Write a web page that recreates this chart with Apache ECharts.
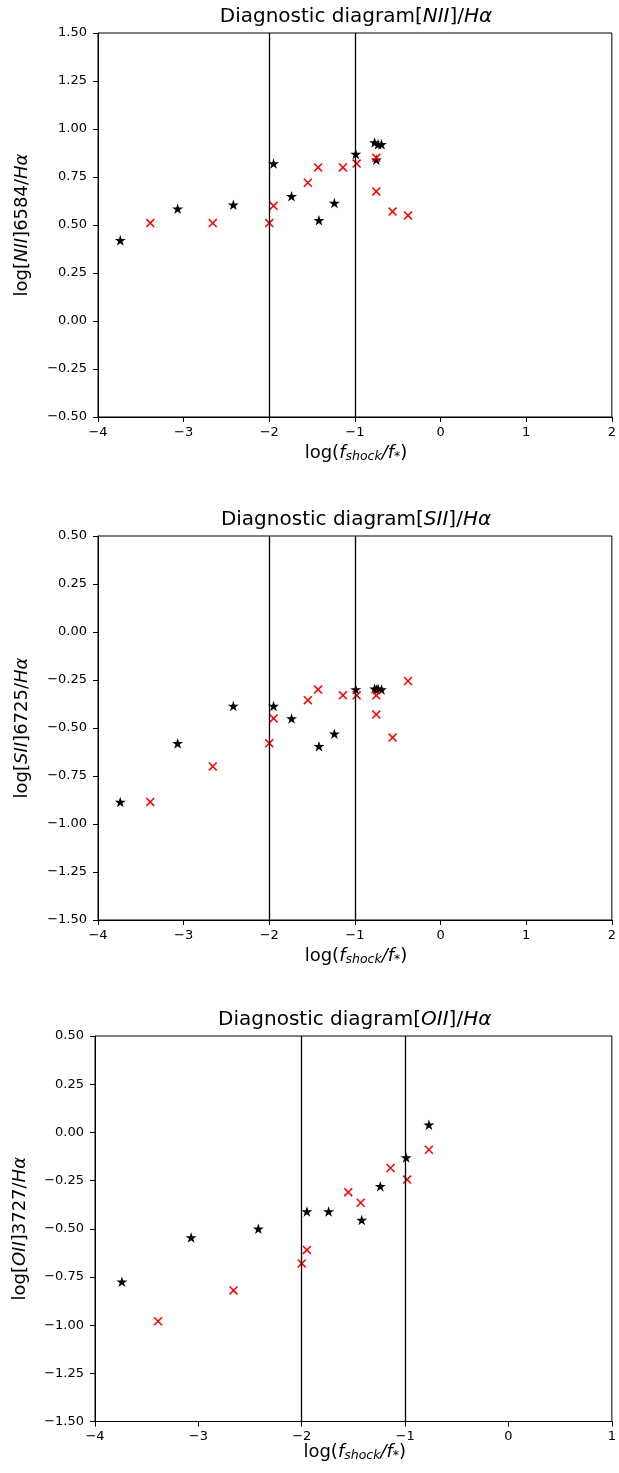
<!DOCTYPE html>
<html>
<head>
<meta charset="utf-8">
<script src="https://cdn.jsdelivr.net/npm/echarts@6/dist/echarts.min.js"></script>
<style>
html,body{margin:0;padding:0;background:#fff;overflow:hidden;}
#chart{width:619px;height:1473px;}
</style>
</head>
<body>
<div id="chart"></div>
<script>
// ---- data ----
const xTicks1 = [-4, 2];           // panel 1 & 2 x range
const xTicks3 = [-4, 1];           // panel 3 x range
const vLines = [-2, -1];

const n2StarX  = [-3.74, -3.07, -2.42, -1.95, -1.74, -1.42, -1.24, -0.99, -0.77, -0.73, -0.69, -0.75];
const n2StarY  = [0.42, 0.585, 0.605, 0.82, 0.65, 0.525, 0.615, 0.87, 0.93, 0.92, 0.92, 0.84];
const n2CrossX = [-3.39, -2.66, -2.00, -1.95, -1.55, -1.43, -1.14, -0.98, -0.75, -0.75, -0.56, -0.38];
const n2CrossY = [0.51, 0.51, 0.51, 0.60, 0.72, 0.80, 0.80, 0.82, 0.85, 0.675, 0.57, 0.55];

const s2StarX  = [-3.74, -3.07, -2.42, -1.95, -1.74, -1.42, -1.24, -0.99, -0.77, -0.73, -0.69, -0.75];
const s2StarY  = [-0.885, -0.58, -0.385, -0.385, -0.45, -0.595, -0.53, -0.30, -0.295, -0.295, -0.30, -0.30];
const s2CrossX = [-3.39, -2.66, -2.00, -1.95, -1.55, -1.43, -1.14, -0.98, -0.75, -0.75, -0.56, -0.38];
const s2CrossY = [-0.885, -0.70, -0.58, -0.45, -0.355, -0.30, -0.33, -0.33, -0.33, -0.43, -0.55, -0.255];

const o2StarX  = [-3.74, -3.07, -2.42, -1.95, -1.74, -1.42, -1.24, -0.99, -0.77];
const o2StarY  = [-0.775, -0.545, -0.50, -0.41, -0.41, -0.455, -0.28, -0.13, 0.04];
const o2CrossX = [-3.39, -2.66, -2.00, -1.95, -1.55, -1.43, -1.14, -0.98, -0.77];
const o2CrossY = [-0.98, -0.82, -0.68, -0.61, -0.31, -0.365, -0.185, -0.245, -0.09];

const titles = [['NII'], ['SII'], ['OII']];
const yLabelLines = ['6584', '6725', '3727'];

// ---- helpers ----
const zip = (xs, ys) => xs.map((x, i) => [x, ys[i]]);
const STAR = 'path://M50 0 L61.23 34.55 L97.55 34.55 L68.17 55.9 L79.39 90.45 L50 69.1 L20.61 90.45 L31.83 55.9 L2.45 34.55 L38.77 34.55 Z';
const CROSS = 'path://M0 1.2 L1.2 0 L10 8.8 L8.8 10 Z M8.8 0 L10 1.2 L1.2 10 L0 8.8 Z';
const FONT = 'DejaVu Sans';
const fmtY = v => (v < 0 ? '\u2212' : '') + Math.abs(v).toFixed(2);
const fmtX = v => (v < 0 ? '\u2212' : '') + Math.abs(Math.round(v));

const grids = [
  {left: 98, top: 33, width: 516, height: 384},
  {left: 98, top: 536, width: 516, height: 384},
  {left: 95, top: 1036, width: 519.5, height: 385.5}
];
const xLabelGap = [36, 36, 31];
const xRanges = [xTicks1, xTicks1, xTicks3];
const yRanges = [[-0.5, 1.5], [-1.5, 0.5], [-1.5, 0.5]];
const starSets = [zip(n2StarX, n2StarY), zip(s2StarX, s2StarY), zip(o2StarX, o2StarY)];
const crossSets = [zip(n2CrossX, n2CrossY), zip(s2CrossX, s2CrossY), zip(o2CrossX, o2CrossY)];

const option = {
  animation: false,
  backgroundColor: '#fff',
  grid: grids.map(g => Object.assign({show: true, borderColor: '#000', borderWidth: 1, backgroundColor: 'transparent'}, g)),
  xAxis: grids.map((g, i) => ({
    gridIndex: i, type: 'value', min: xRanges[i][0], max: xRanges[i][1], interval: 1,
    axisLine: {show: true, onZero: false, lineStyle: {color: '#000', width: 1}},
    axisTick: {show: true, length: 5, lineStyle: {color: '#000', width: 1}},
    axisLabel: {color: '#000', fontFamily: FONT, fontSize: 13, margin: 9, formatter: fmtX},
    splitLine: {show: false}
  })),
  yAxis: grids.map((g, i) => ({
    gridIndex: i, type: 'value', min: yRanges[i][0], max: yRanges[i][1], interval: 0.25,
    axisLine: {show: true, onZero: false, lineStyle: {color: '#000', width: 1}},
    axisTick: {show: true, length: 5, lineStyle: {color: '#000', width: 1}},
    axisLabel: {color: '#000', fontFamily: FONT, fontSize: 13, margin: 11, formatter: fmtY},
    splitLine: {show: false}
  })),
  series: [],
  graphic: []
};

grids.forEach((g, i) => {
  option.series.push({
    type: 'scatter', xAxisIndex: i, yAxisIndex: i, data: [], z: 1, silent: true,
    markLine: {
      silent: true, symbol: 'none', label: {show: false}, animation: false,
      lineStyle: {color: '#000', width: 1.3, type: 'solid'},
      data: vLines.map(v => ({xAxis: v}))
    }
  });
  option.series.push({
    type: 'scatter', xAxisIndex: i, yAxisIndex: i, data: starSets[i], z: 3,
    symbol: STAR, symbolSize: [11, 10.5], itemStyle: {color: '#000', opacity: 1}
  });
  option.series.push({
    type: 'scatter', xAxisIndex: i, yAxisIndex: i, data: crossSets[i], z: 4,
    symbol: CROSS, symbolSize: 9, itemStyle: {color: '#ff0000', opacity: 1}
  });

  const cx = g.left + g.width / 2;
  const cy = g.top + g.height / 2;
  const rich = {
    n: {fontFamily: FONT, fontSize: 20, fill: '#000'},
    i: {fontFamily: FONT, fontSize: 20, fontStyle: 'italic', fill: '#000'}
  };
  // title
  option.graphic.push({
    type: 'text', x: cx, y: g.top - 16,
    style: {
      text: '{n|Diagnostic diagram[}{i|' + titles[i][0] + '}{n|]/}{i|H\u03b1}',
      rich: rich, align: 'center', verticalAlign: 'middle'
    }
  });
  // x label
  option.graphic.push({
    type: 'text', x: cx, y: g.top + g.height + xLabelGap[i],
    style: {
      text: '{n|log(}{i|f}{s|shock}{i|/f}{s|*}{n|)}',
      rich: {
        n: {fontFamily: FONT, fontSize: 18, fill: '#000'},
        i: {fontFamily: FONT, fontSize: 18, fontStyle: 'italic', fill: '#000'},
        s: {fontFamily: FONT, fontSize: 12.5, fontStyle: 'italic', fill: '#000', padding: [7, 0, 0, 0]}
      },
      align: 'center', verticalAlign: 'middle'
    }
  });
  // y label
  option.graphic.push({
    type: 'text', x: i === 2 ? 20 : 22, y: cy, rotation: Math.PI / 2,
    style: {
      text: '{n|log[}{i|' + titles[i][0] + '}{n|]' + yLabelLines[i] + '/}{i|H\u03b1}',
      rich: {
        n: {fontFamily: FONT, fontSize: 18, fill: '#000'},
        i: {fontFamily: FONT, fontSize: 18, fontStyle: 'italic', fill: '#000'}
      },
      align: 'center', verticalAlign: 'middle'
    }
  });
});

const chart = echarts.init(document.getElementById('chart'), null, {renderer: 'canvas'});
chart.setOption(option);
</script>
</body>
</html>
